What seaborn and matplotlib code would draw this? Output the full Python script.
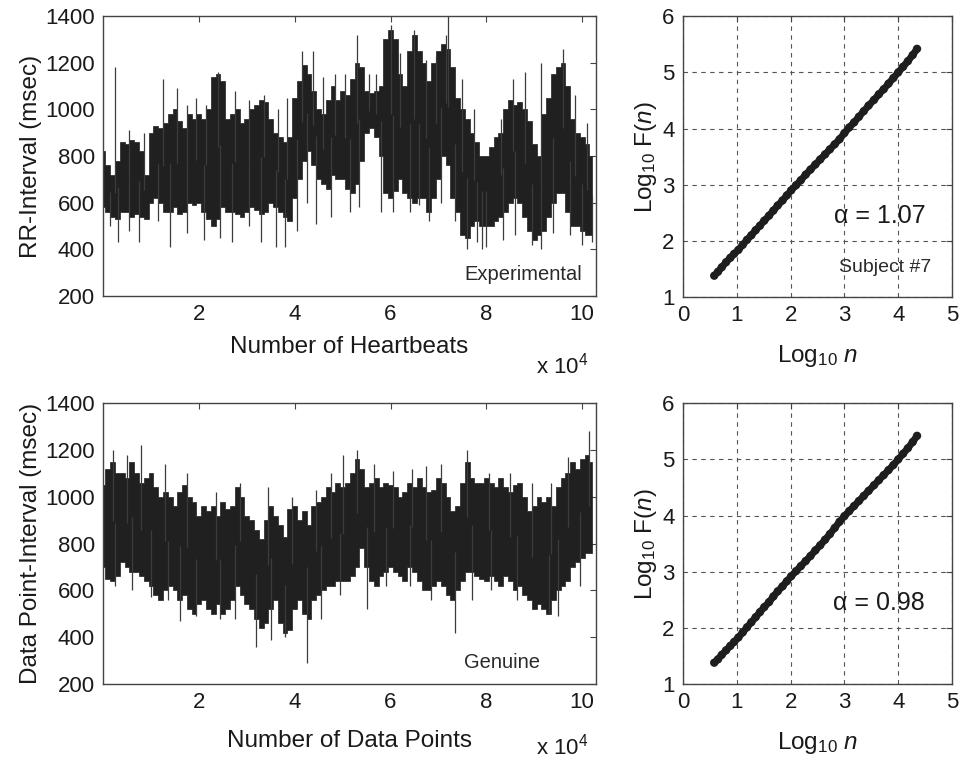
import numpy as np
import pandas as pd
import matplotlib
matplotlib.use("Agg")
import matplotlib.pyplot as plt
import seaborn as sns

# ---------------- data ----------------
# beat index step for the envelope arrays (beats)
step_beats = 1000

# Experimental RR series: dense body envelope (msec), one value per 1000 beats
exp_upper = [820, 760, 720, 780, 860, 850, 870, 860, 820, 720,
             900, 930, 920, 940, 980, 1000, 950, 920, 980, 960,
             980, 960, 1000, 1140, 1150, 1120, 960, 980, 1000, 940,
             960, 1000, 1020, 1040, 1030, 960, 900, 880, 860, 880,
             1050, 1120, 1190, 1150, 1080, 1000, 980, 1040, 1100, 1040,
             1080, 1060, 1130, 1200, 1180, 1080, 1070, 1080, 1100, 1300,
             1340, 1300, 1150, 1100, 1250, 1320, 1250, 1200, 1120, 1200,
             1250, 1280, 1260, 1180, 1050, 1000, 960, 900, 860, 800,
             800, 840, 880, 900, 1000, 1040, 1020, 1030, 1000, 950,
             850, 800, 980, 1050, 1150, 1180, 1200, 1100, 960, 900,
             880, 850, 800]
exp_lower = [580, 560, 540, 530, 560, 560, 540, 550, 540, 530,
             600, 620, 600, 560, 560, 580, 550, 560, 600, 590,
             600, 560, 530, 500, 530, 580, 560, 560, 550, 540,
             560, 580, 570, 550, 560, 600, 580, 560, 540, 520,
             620, 700, 780, 820, 760, 700, 680, 660, 720, 700,
             700, 660, 640, 680, 780, 900, 920, 880, 800, 640,
             620, 650, 700, 640, 620, 600, 620, 620, 560, 620,
             700, 800, 760, 620, 560, 460, 450, 500, 520, 500,
             500, 500, 520, 540, 560, 600, 620, 600, 540, 480,
             440, 460, 480, 540, 600, 640, 640, 560, 500, 500,
             480, 460, 460]
# isolated spikes: position (beats), tip value (msec)
exp_spike_up_x = [2500, 5500, 8500, 12500, 15500, 17500, 19500, 21500, 24000,
                  27500, 30500, 33500, 36500, 38500, 41500, 43800, 46000, 48500,
                  50500, 53000, 55500, 57000, 60000, 62000, 65000, 67500, 69500,
                  71500, 72000, 75000, 77500, 83000, 85500, 88000, 91500, 96000,
                  98500, 101000]
exp_spike_up_y = [1180, 910, 900, 1130, 1090, 1020, 1050, 1020, 1160,
                  1080, 1040, 1060, 1000, 1050, 1250, 1250, 1140, 1150,
                  1150, 1320, 1150, 1150, 1360, 1240, 1340, 1210, 1230,
                  1320, 1400, 1130, 1000, 960, 1130, 1160, 1200, 1260,
                  1060, 940]
exp_spike_dn_x = [1500, 3200, 5500, 7500, 11500, 14000, 17500, 21000, 24500,
                  27000, 30500, 33000, 36000, 38000, 40500, 42500, 44500, 47500,
                  51500, 53500, 58000, 60500, 64000, 66000, 68000, 70500, 73500,
                  76000, 78000, 79000, 80000, 83500, 86000, 89500, 91500, 94000,
                  97500, 100000, 102000]
exp_spike_dn_y = [500, 430, 480, 430, 520, 410, 470, 440, 450,
                  430, 500, 430, 410, 410, 480, 600, 510, 540,
                  560, 580, 560, 560, 560, 590, 520, 600, 520,
                  400, 430, 400, 410, 440, 460, 420, 400, 470,
                  460, 420, 430]

# Genuine series
gen_upper = [1050, 1120, 1150, 1100, 1100, 1080, 1150, 1100, 1060, 1080,
             1100, 1040, 1000, 1020, 1000, 960, 1020, 1050, 1000, 980,
             920, 960, 940, 960, 920, 980, 950, 960, 1040, 1000,
             920, 900, 860, 820, 900, 960, 920, 880, 830, 950,
             960, 900, 940, 880, 960, 980, 1000, 1040, 1020, 1060,
             1040, 1060, 1100, 1160, 1120, 1040, 1060, 1080, 1040, 1060,
             1050, 1040, 1000, 1020, 1060, 1040, 1080, 1040, 1020, 1030,
             1080, 1060, 1000, 940, 960, 1060, 1150, 1080, 1060, 1060,
             1080, 1060, 1040, 1080, 1040, 1020, 1050, 1060, 1000, 940,
             960, 1000, 980, 1000, 960, 1040, 1080, 1100, 1150, 1120,
             1160, 1180, 1150]
gen_lower = [700, 650, 640, 660, 720, 700, 680, 680, 660, 640,
             620, 580, 560, 600, 620, 600, 560, 580, 520, 500,
             540, 560, 520, 500, 540, 500, 520, 560, 620, 580,
             540, 520, 480, 440, 460, 520, 560, 460, 420, 430,
             520, 560, 500, 480, 560, 580, 600, 620, 620, 640,
             640, 640, 660, 700, 780, 700, 640, 620, 660, 680,
             700, 680, 660, 640, 700, 680, 640, 600, 600, 620,
             640, 620, 580, 560, 600, 640, 680, 680, 660, 650,
             640, 660, 640, 620, 660, 640, 600, 620, 580, 560,
             520, 540, 520, 500, 560, 600, 620, 640, 700, 720,
             740, 760, 760]
gen_spike_up_x = [2000, 5000, 8000, 13000, 17500, 23500, 28500, 34500, 39500,
                  44500, 47500, 50000, 53000, 56500, 60500, 64500, 67500, 70500,
                  76000, 80500, 85000, 89500, 93500, 97000, 101500]
gen_spike_up_y = [1200, 1180, 1220, 1140, 1100, 1020, 1060, 1040, 1000,
                  1030, 1100, 1180, 1200, 1140, 1110, 1120, 1130, 1140,
                  1200, 1100, 1100, 1060, 1060, 1170, 1280]
gen_spike_dn_x = [2500, 6000, 10000, 13500, 16000, 19500, 24500, 27500, 32000,
                  35000, 38000, 42500, 45500, 49500, 55000, 59000, 64000, 68500,
                  73500, 77000, 81000, 86500, 93000, 95000, 99500]
gen_spike_dn_y = [620, 600, 570, 560, 470, 490, 480, 480, 360,
                  390, 400, 290, 480, 580, 520, 620, 620, 560,
                  420, 560, 600, 560, 500, 490, 620]

# DFA: log10 n vs log10 F(n)
dfa_x = [0.58, 0.65, 0.72, 0.80, 0.88, 0.95, 1.03, 1.11, 1.19, 1.27, 1.35, 1.43,
         1.51, 1.60, 1.68, 1.76, 1.85, 1.93, 2.01, 2.10, 2.19, 2.28, 2.37, 2.46,
         2.55, 2.64, 2.73, 2.82, 2.91, 3.00, 3.09, 3.18, 3.27, 3.36, 3.45, 3.55,
         3.64, 3.73, 3.82, 3.91, 4.00, 4.09, 4.18, 4.27, 4.35]
dfa_exp_y = [1.38, 1.45, 1.53, 1.62, 1.70, 1.77, 1.84, 1.93, 2.02, 2.10, 2.19, 2.27,
             2.36, 2.45, 2.54, 2.63, 2.72, 2.81, 2.90, 2.99, 3.08, 3.18, 3.27, 3.36,
             3.45, 3.54, 3.63, 3.72, 3.81, 3.92, 4.02, 4.11, 4.21, 4.31, 4.41, 4.51,
             4.61, 4.70, 4.80, 4.90, 5.00, 5.10, 5.20, 5.31, 5.42]
dfa_gen_y = [1.38, 1.44, 1.52, 1.60, 1.68, 1.75, 1.83, 1.92, 2.01, 2.10, 2.19, 2.28,
             2.37, 2.46, 2.56, 2.65, 2.74, 2.83, 2.92, 3.01, 3.10, 3.19, 3.28, 3.38,
             3.47, 3.57, 3.67, 3.78, 3.89, 3.99, 4.08, 4.17, 4.26, 4.35, 4.44, 4.54,
             4.63, 4.72, 4.81, 4.90, 5.00, 5.10, 5.20, 5.31, 5.42]

ts_ticks = [20000, 40000, 60000, 80000, 100000]
ts_ticklabels = ["2", "4", "6", "8", "10"]
ts_yticks = [200, 400, 600, 800, 1000, 1200, 1400]

# ---------------- style ----------------
sns.set_style("white")
plt.rcParams["font.family"] = ["Liberation Sans", "DejaVu Sans"]
plt.rcParams["mathtext.fontset"] = "custom"
plt.rcParams["mathtext.rm"] = "Liberation Sans"
plt.rcParams["mathtext.it"] = "Liberation Sans:italic"
plt.rcParams["mathtext.bf"] = "Liberation Sans:bold"

TICK_FS = 16
LAB_FS = 17.5
fig = plt.figure(figsize=(9.62, 7.63), dpi=100)

ax_tl = fig.add_axes([0.1071, 0.6121, 0.5125, 0.367])
ax_bl = fig.add_axes([0.1071, 0.1035, 0.5125, 0.368])
ax_tr = fig.add_axes([0.710, 0.6107, 0.2796, 0.368])
ax_br = fig.add_axes([0.710, 0.1035, 0.2796, 0.368])

body_col = "#202020"
spike_col = "#3c3c3c"
frame_col = "#444444"
text_col = "#1a1a1a"


def style_frame(ax):
    for s in ax.spines.values():
        s.set_visible(True)
        s.set_color(frame_col)
        s.set_linewidth(1.0)
    ax.tick_params(direction="in", length=4, width=0.8, color=frame_col,
                   top=True, right=True, labelsize=TICK_FS, pad=6,
                   labelcolor=text_col)


def draw_series(ax, upper, lower, sux, suy, sdx, sdy, label, label_x,
                xlabel, ylabel, xpad, exp_y):
    xs = np.arange(len(upper)) * step_beats
    df = pd.DataFrame({"beat": xs, "upper": upper, "lower": lower})
    ax.fill_between(df["beat"], df["lower"], df["upper"], color=body_col,
                    linewidth=0.5, edgecolor=body_col, step="mid", zorder=2)
    mid = (df["upper"] + df["lower"]) / 2
    mid_up = np.interp(sux, df["beat"], mid)
    ax.vlines(sux, mid_up, suy, color=spike_col, linewidth=0.9, zorder=2)
    mid_dn = np.interp(sdx, df["beat"], mid)
    ax.vlines(sdx, sdy, mid_dn, color=spike_col, linewidth=0.9, zorder=2)
    ax.set_xlim(0, 102900)
    ax.set_ylim(200, 1400)
    ax.set_xticks(ts_ticks)
    ax.set_xticklabels(ts_ticklabels)
    ax.set_yticks(ts_yticks)
    style_frame(ax)
    ax.set_xlabel(xlabel, fontsize=LAB_FS, labelpad=xpad, color=text_col)
    ax.set_ylabel(ylabel, fontsize=LAB_FS, labelpad=2, color=text_col)
    ax.text(label_x, 0.075, label, transform=ax.transAxes, ha="center",
            va="center", fontsize=14.5, color="#2a2a2a")
    ax.text(0.985, exp_y, r"x 10$^4$", transform=ax.transAxes, ha="right",
            va="center", fontsize=TICK_FS, color=text_col)


draw_series(ax_tl, exp_upper, exp_lower, exp_spike_up_x, exp_spike_up_y,
            exp_spike_dn_x, exp_spike_dn_y, "Experimental", 0.853,
            "Number of Heartbeats", "RR-Interval (msec)", 8, -0.25)
draw_series(ax_bl, gen_upper, gen_lower, gen_spike_up_x, gen_spike_up_y,
            gen_spike_dn_x, gen_spike_dn_y, "Genuine", 0.81,
            "Number of Data Points", "Data Point-Interval (msec)", 12, -0.222)


def draw_dfa(ax, ys, alpha_txt, extra, xpad):
    df = pd.DataFrame({"logn": dfa_x, "logF": ys})
    sns.lineplot(data=df, x="logn", y="logF", ax=ax, color="#1e1e1e",
                 linewidth=5.0, zorder=3)
    sns.scatterplot(data=df, x="logn", y="logF", ax=ax, color="#1e1e1e",
                    s=36, edgecolor="none", zorder=4)
    ax.set_xlim(0, 5)
    ax.set_ylim(1, 6)
    ax.set_xticks([0, 1, 2, 3, 4, 5])
    ax.set_yticks([1, 2, 3, 4, 5, 6])
    ax.grid(True, linestyle=(0, (4, 4)), color="#555555", linewidth=0.8)
    ax.set_axisbelow(True)
    style_frame(ax)
    ax.set_xlabel(r"Log$_{10}$ $\it{n}$", fontsize=LAB_FS, labelpad=xpad, color=text_col)
    ax.set_ylabel(r"Log$_{10}$ F($\it{n}$)", fontsize=LAB_FS, labelpad=2, color=text_col)
    ax.text(3.65, 2.45, alpha_txt, fontsize=18, ha="center", va="center",
            color=text_col, zorder=5)
    if extra:
        ax.text(3.76, 1.53, extra, fontsize=14, ha="center", va="center",
                color="#2a2a2a", zorder=5)


draw_dfa(ax_tr, dfa_exp_y, "\u03b1 = 1.07", "Subject #7", 12)
draw_dfa(ax_br, dfa_gen_y, "\u03b1 = 0.98", None, 12)

fig.savefig("out.png", dpi=100, facecolor="white")
